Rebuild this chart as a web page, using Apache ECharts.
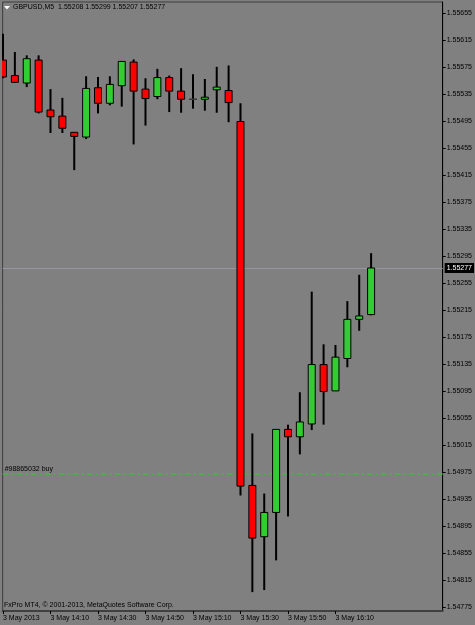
<!DOCTYPE html>
<html>
<head>
<meta charset="utf-8">
<script src="https://cdn.jsdelivr.net/npm/echarts@6/dist/echarts.min.js"></script>
<style>
html,body{margin:0;padding:0;background:#808080;}
#chart{width:475px;height:625px;}
</style>
</head>
<body>
<div id="chart"></div>
<script>
// ---- data ----
const symbol = "GBPUSD,M5";
const times = ["13:50","13:55","14:00","14:05","14:10","14:15","14:20","14:25","14:30","14:35",
  "14:40","14:45","14:50","14:55","15:00","15:05","15:10","15:15","15:20","15:25",
  "15:30","15:35","15:40","15:45","15:50","15:55","16:00","16:05","16:10","16:15","16:20","16:25"];
const openP  = [1.55585,1.55562,1.55551,1.55585,1.55511,1.55502,1.55478,1.55471,1.55544,1.55521,
  1.55547,1.55582,1.55542,1.55531,1.55559,1.55539,1.55527,1.55527,1.55541,1.55540,
  1.55494,1.54955,1.54879,1.54915,1.55038,1.55027,1.55046,1.55134,1.55095,1.55143,1.55201,1.55208];
const highP  = [1.55624,1.55597,1.55592,1.55592,1.55542,1.55529,1.55478,1.55561,1.55560,1.55561,
  1.55583,1.55586,1.55558,1.55572,1.55562,1.55573,1.55564,1.55557,1.55575,1.55577,
  1.55521,1.55032,1.54943,1.55038,1.55045,1.55093,1.55242,1.55164,1.55163,1.55228,1.55267,1.55299];
const lowP   = [1.55558,1.55551,1.55545,1.55506,1.55477,1.55477,1.55422,1.55468,1.55506,1.55518,
  1.55516,1.55460,1.55488,1.55527,1.55508,1.55507,1.55513,1.55510,1.55507,1.55493,
  1.54940,1.54797,1.54800,1.54844,1.54909,1.55001,1.55037,1.55045,1.55095,1.55130,1.55184,1.55207];
const closeP = [1.55560,1.55552,1.55587,1.55508,1.55501,1.55484,1.55472,1.55543,1.55521,1.55549,
  1.55583,1.55539,1.55528,1.55559,1.55539,1.55527,1.55527,1.55530,1.55545,1.55522,
  1.54954,1.54877,1.54915,1.55038,1.55027,1.55049,1.55134,1.55094,1.55145,1.55201,1.55206,1.55277];
const yTicks = [1.54775,1.54815,1.54855,1.54895,1.54935,1.54975,1.55015,1.55055,1.55095,1.55135,
  1.55175,1.55215,1.55255,1.55295,1.55335,1.55375,1.55415,1.55455,1.55495,1.55535,1.55575,1.55615,1.55655];
const xTickIdx = [0,4,8,12,16,20,24,28];
const xTickLabels = ["3 May 2013","3 May 14:10","3 May 14:30","3 May 14:50","3 May 15:10","3 May 15:30","3 May 15:50","3 May 16:10"];
const buyPrice = 1.54973;
const buyLabel = "#98865032 buy";
const footer = "FxPro MT4, © 2001-2013, MetaQuotes Software Corp.";

// ---- chart ----
const FONT = '"Liberation Sans", Arial, sans-serif';
const last = closeP.length - 1;
const lastPrice = closeP[last];
const header = symbol + "  " + [openP[last], highP[last], lowP[last], closeP[last]].map(v => v.toFixed(5)).join(" ");

const candleData = times.map((t, i) => [i, openP[i], closeP[i], lowP[i], highP[i]]);

const chart = echarts.init(document.getElementById('chart'), null, {renderer: 'canvas'});

function renderCandle(params, api) {
  const x = api.value(0), o = api.value(1), c = api.value(2), l = api.value(3), h = api.value(4);
  const pH = api.coord([x, h]), pL = api.coord([x, l]);
  const pO = api.coord([x, o]), pC = api.coord([x, c]);
  const cx = pH[0];
  const children = [{
    type: 'line',
    shape: {x1: cx, y1: pH[1], x2: cx, y2: pL[1]},
    style: {stroke: '#000', lineWidth: 2}
  }];
  const bw = 7;
  if (o === c) {
    children.push({
      type: 'line',
      shape: {x1: cx - 4, y1: pO[1], x2: cx + 4, y2: pO[1]},
      style: {stroke: '#3a3a3a', lineWidth: 1.5}
    });
  } else {
    const top = Math.min(pO[1], pC[1]);
    const hgt = Math.abs(pO[1] - pC[1]);
    children.push({
      type: 'rect',
      shape: {x: cx - bw / 2, y: top, width: bw, height: hgt},
      style: {fill: c > o ? '#32cd32' : '#ff0000', stroke: '#000', lineWidth: 1}
    });
  }
  return {type: 'group', children: children};
}

const option = {
  backgroundColor: '#808080',
  animation: false,
  textStyle: {fontFamily: FONT},
  grid: {left: 2, right: 32, top: 2, bottom: 14, show: true, borderColor: '#3c3c3c', borderWidth: 1, backgroundColor: 'transparent'},
  xAxis: {
    type: 'value',
    min: -0.03,
    max: 37.03,
    position: 'bottom',
    splitLine: {show: false},
    minorTick: {show: false},
    axisLine: {show: true, onZero: false, lineStyle: {color: '#404040', width: 2}},
    axisTick: {show: true, customValues: xTickIdx, length: 3, lineStyle: {color: '#000', width: 1}},
    axisLabel: {
      show: true, customValues: xTickIdx, align: 'left', margin: 4,
      fontSize: 7, fontFamily: FONT, color: '#000',
      formatter: v => xTickLabels[xTickIdx.indexOf(Math.round(v))] || ''
    }
  },
  yAxis: {
    type: 'value',
    position: 'right',
    min: 1.54769,
    max: 1.55671,
    scale: true,
    splitLine: {show: false},
    minorTick: {show: false},
    axisLine: {show: true, onZero: false, lineStyle: {color: '#000', width: 1}},
    axisTick: {show: true, customValues: yTicks, length: 3, lineStyle: {color: '#000'}},
    axisLabel: {
      show: true, customValues: yTicks, margin: 4,
      fontSize: 7, fontFamily: FONT, color: '#000',
      formatter: v => v.toFixed(5)
    }
  },
  series: [
    {
      type: 'custom',
      name: 'price',
      clip: true,
      renderItem: renderCandle,
      encode: {x: 0, y: [1, 2, 3, 4]},
      data: candleData,
      z: 5
    },
    {
      type: 'line',
      name: 'levels',
      data: [],
      silent: true,
      z: 3,
      markLine: {
        silent: true,
        precision: 5,
        symbol: ['none', 'none'],
        animation: false,
        data: [
          {
            yAxis: buyPrice,
            lineStyle: {color: '#44b844', width: 1.5, type: [6, 3, 2, 3], opacity: 1},
            label: {show: true, position: 'insideStartTop', formatter: buyLabel, color: '#000', fontSize: 7, fontFamily: FONT, distance: [2, 1]}
          },
          {
            yAxis: lastPrice,
            lineStyle: {color: '#9696a4', width: 1, type: 'solid'},
            label: {show: true, position: 'end', formatter: lastPrice.toFixed(5), color: '#fff', backgroundColor: '#000', fontSize: 7, fontFamily: FONT, padding: [2, 2, 1, 2], distance: 2}
          }
        ]
      }
    }
  ],
  graphic: [
    {type: 'polygon', shape: {points: [[4, 6], [10, 6], [7, 9.5]]}, style: {fill: '#fff'}, z: 100},
    {type: 'text', left: 13, top: 4, style: {text: header, fill: '#000', font: '7px ' + FONT}, z: 100},
    {type: 'text', left: 4, top: 602, style: {text: footer, fill: '#000', font: '7px ' + FONT}, z: 100}
  ]
};
chart.setOption(option);
</script>
</body>
</html>
